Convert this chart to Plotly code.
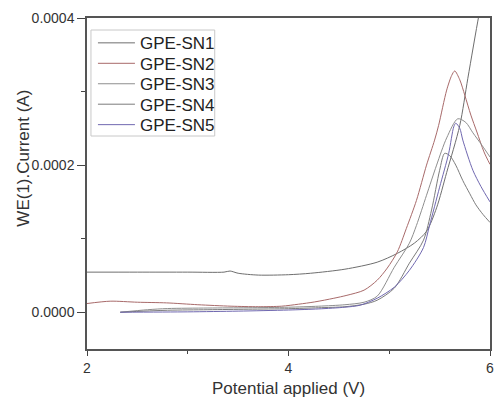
import plotly.graph_objects as go

# ---- data ----
sn1_x = [2.0, 2.5, 3.0, 3.36, 3.42, 3.5, 3.7, 4.0, 4.22, 4.56, 4.88, 5.08, 5.25, 5.37, 5.47, 5.57, 5.7, 5.78, 5.89, 5.95]
sn1_y = [5.45e-5, 5.45e-5, 5.45e-5, 5.45e-5, 5.6e-5, 5.3e-5, 5.05e-5, 5.1e-5, 5.3e-5, 5.85e-5, 6.8e-5, 8.0e-5,
         9.4e-5, 1.1e-4, 1.42e-4, 1.9e-4, 2.54e-4, 3.18e-4, 4.04e-4, 4.45e-4]

sn2_x = [2.0, 2.23, 2.5, 2.79, 3.1, 3.43, 3.7, 3.93, 4.1, 4.26, 4.45, 4.58, 4.75, 4.88, 4.98, 5.08, 5.17, 5.27,
         5.37, 5.45, 5.49, 5.57, 5.62, 5.65, 5.7, 5.75, 5.81, 5.87, 5.94, 6.0]
sn2_y = [1.18e-5, 1.5e-5, 1.36e-5, 1.27e-5, 1.02e-5, 8.2e-6, 7.5e-6, 8.2e-6, 1.09e-5, 1.4e-5, 1.9e-5, 2.3e-5,
         3.0e-5, 4.35e-5, 6.0e-5, 8.2e-5, 1.14e-4, 1.52e-4, 2.0e-4, 2.34e-4, 2.54e-4, 3.02e-4, 3.22e-4, 3.28e-4,
         3.16e-4, 2.95e-4, 2.68e-4, 2.45e-4, 2.18e-4, 2.01e-4]

sn3_x = [2.33, 2.6, 2.8, 3.2, 3.6, 4.0, 4.3, 4.56, 4.75, 4.88, 5.05, 5.2, 5.27, 5.37, 5.47, 5.57, 5.68, 5.76,
         5.83, 5.92, 6.0]
sn3_y = [0.0, 3.4e-6, 5.0e-6, 5.7e-6, 6.1e-6, 6.8e-6, 8.2e-6, 1.02e-5, 1.36e-5, 2.18e-5, 6.12e-5, 9.39e-5,
         1.18e-4, 1.59e-4, 2.0e-4, 2.37e-4, 2.63e-4, 2.58e-4, 2.44e-4, 2.27e-4, 2.11e-4]

sn4_x = [2.33, 2.8, 3.2, 3.6, 4.0, 4.3, 4.56, 4.75, 4.88, 5.05, 5.2, 5.34, 5.42, 5.5, 5.55, 5.6, 5.66, 5.73,
         5.8, 5.86, 5.93, 6.0]
sn4_y = [0.0, 2.7e-6, 3.4e-6, 4.1e-6, 4.8e-6, 6.1e-6, 7.5e-6, 1.09e-5, 1.63e-5, 3.27e-5, 6.67e-5, 9.8e-5,
         1.39e-4, 1.93e-4, 2.16e-4, 2.13e-4, 2.0e-4, 1.79e-4, 1.61e-4, 1.46e-4, 1.33e-4, 1.22e-4]

sn5_x = [2.33, 3.0, 3.5, 4.0, 4.3, 4.56, 4.71, 4.88, 5.05, 5.2, 5.34, 5.4, 5.5, 5.59, 5.64, 5.66, 5.7, 5.73,
         5.83, 5.91, 6.0]
sn5_y = [0.0, 5e-7, 1.5e-6, 3e-6, 4.5e-6, 6.8e-6, 9.5e-6, 1.9e-5, 3.4e-5, 5.7e-5, 8.8e-5, 1.18e-4, 1.7e-4,
         2.16e-4, 2.52e-4, 2.57e-4, 2.5e-4, 2.34e-4, 1.93e-4, 1.71e-4, 1.5e-4]

names = ["GPE-SN1", "GPE-SN2", "GPE-SN3", "GPE-SN4", "GPE-SN5"]
colors = ["#6e6e6e", "#a86a6a", "#8e8e8e", "#7c7c7c", "#7068b0"]
series = [(sn1_x, sn1_y), (sn2_x, sn2_y), (sn3_x, sn3_y), (sn4_x, sn4_y), (sn5_x, sn5_y)]

x_ticks = [2, 4, 6]
y_ticks = [0.0, 0.0002, 0.0004]

# plot area in pixels (for paper-coordinate conversion of legend placement)
PL, PR, PT, PB = 87, 494, 18, 349
def px_to_paper_x(px):
    return (px - PL) / (PR - PL)
def py_to_paper_y(py):
    return (PB - py) / (PB - PT)

font_family = "Liberation Sans, Arial, sans-serif"

fig = go.Figure()
legend_ids = ["legend", "legend2", "legend3", "legend4", "legend5"]
for i, ((xs, ys), n, c) in enumerate(zip(series, names, colors)):
    fig.add_trace(go.Scatter(x=xs, y=ys, mode="lines", name=n, legend=legend_ids[i],
                             line=dict(color=c, width=1, shape="spline", smoothing=0.8)))

axis_common = dict(showgrid=False, zeroline=False, showline=True, linecolor="#555", linewidth=1.5,
                   mirror=True, ticks="outside", tickwidth=1, tickcolor="#444",
                   tickfont=dict(family=font_family, size=14, color="#333"))

fig.update_xaxes(range=[2, 6], tickvals=x_ticks, ticktext=[str(v) for v in x_ticks], ticklen=5,
                 minor=dict(ticks="outside", ticklen=3, tickwidth=1, tickcolor="#444", dtick=1, tick0=2),
                 **axis_common)
fig.update_yaxes(range=[-0.00005, 0.0004], tickvals=y_ticks, ticktext=[f"{v:.4f}" for v in y_ticks], ticklen=8,
                 minor=dict(ticks="outside", ticklen=4, tickwidth=1, tickcolor="#444", dtick=0.0001, tick0=0),
                 **axis_common)

legend_layout = {}
for i, lid in enumerate(legend_ids):
    legend_layout[lid] = dict(
        x=px_to_paper_x(93), y=py_to_paper_y(43.3 + i * 20.45), xanchor="left", yanchor="middle",
        bgcolor="rgba(0,0,0,0)", borderwidth=0, itemwidth=37,
        font=dict(family=font_family, size=17, color="#222"))

fig.update_layout(
    width=498, height=399,
    margin=dict(l=PL, r=498 - PR, t=PT, b=399 - PB),
    plot_bgcolor="white", paper_bgcolor="white",
    font=dict(family=font_family, color="#333"),
    showlegend=True,
    shapes=[dict(type="rect", xref="paper", yref="paper",
                 x0=px_to_paper_x(91), x1=px_to_paper_x(216),
                 y0=py_to_paper_y(136), y1=py_to_paper_y(30),
                 line=dict(color="#c8c8c8", width=1), fillcolor="white", layer="below")],
    annotations=[
        dict(text="Potential applied (V)", xref="paper", yref="paper", x=0.5, y=py_to_paper_y(388),
             xanchor="center", yanchor="middle", showarrow=False,
             font=dict(family=font_family, size=17, color="#333")),
        dict(text="WE(1).Current (A)", xref="paper", yref="paper", x=px_to_paper_x(22), y=py_to_paper_y(158),
             xanchor="center", yanchor="middle", showarrow=False, textangle=-90,
             font=dict(family=font_family, size=17, color="#333")),
    ],
    **legend_layout,
)

fig.write_html("out.html")
